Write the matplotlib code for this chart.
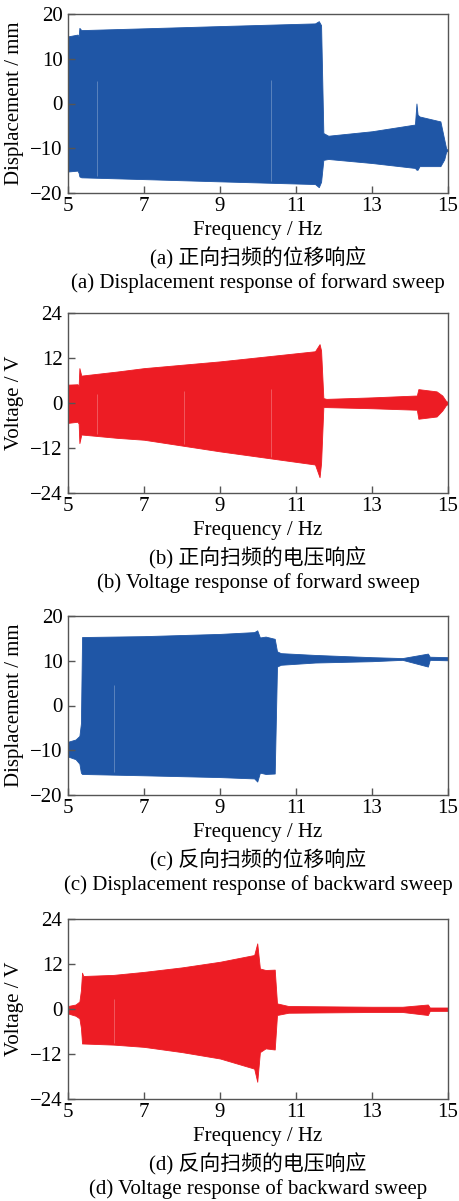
#!/usr/bin/env python3
"""
Frequency-sweep responses (forward / backward): displacement and voltage envelopes.
"""

import numpy as np
import matplotlib.pyplot as plt

# ---- envelope data (freq in Hz, upper / lower bound) ----
# (a) forward sweep, displacement / mm
freq_a = [5.00, 5.25, 5.28, 5.30, 5.35, 7.00, 9.00, 11.50, 11.60, 11.66, 11.72,
          11.85, 13.00, 14.13, 14.17, 14.20, 14.25, 14.80, 14.90, 14.95, 15.00]
upper_a = [15.0, 15.4, 15.0, 16.9, 16.4, 16.8, 17.3, 17.9, 18.4, 17.5, -6.6,
           -7.2, -6.2, -4.7, 0.0, -2.5, -2.9, -4.0, -8.0, -10.0, -10.5]
lower_a = [-15.2, -15.0, -15.5, -16.3, -16.5, -16.9, -17.4, -18.0, -18.7, -17.5, -12.6,
           -12.4, -13.3, -14.4, -14.8, -14.8, -14.0, -14.0, -12.5, -10.8, -10.5]
gaps_a = [5.76, 10.35]

# (b) forward sweep, voltage / V
freq_b = [5.00, 5.25, 5.28, 5.30, 5.35, 6.30, 7.00, 9.00, 11.50, 11.62, 11.66, 11.72,
          11.80, 13.00, 14.18, 14.22, 14.70, 14.85, 14.95, 15.00]
upper_b = [4.9, 5.0, 4.5, 9.3, 7.3, 8.4, 9.3, 11.1, 13.8, 15.7, 14.0, 1.3,
           1.1, 1.5, 2.0, 3.7, 3.1, 2.0, 0.5, 0.3]
lower_b = [-5.3, -5.0, -5.5, -10.7, -8.4, -9.3, -9.8, -12.9, -16.4, -19.8, -16.0, -1.1,
           -1.1, -1.4, -1.8, -4.2, -3.6, -2.0, -0.5, -0.3]
gaps_b = [5.75, 8.05, 10.35]

# (c) backward sweep, displacement / mm
freq_c = [5.00, 5.20, 5.30, 5.34, 5.37, 7.00, 9.00, 9.90, 9.98, 10.05, 10.20, 10.44,
          10.50, 10.60, 11.50, 13.00, 13.80, 14.47, 14.52, 15.00]
upper_c = [-8.1, -7.6, -6.8, -4.0, 15.3, 15.5, 16.0, 16.4, 16.8, 15.2, 15.4, 14.9,
           12.1, 11.7, 11.3, 10.8, 10.6, 11.6, 10.9, 10.8]
lower_c = [-11.4, -12.0, -13.0, -15.0, -15.3, -15.6, -16.0, -16.3, -17.0, -15.0, -15.3, -15.2,
           8.7, 9.1, 9.6, 9.9, 10.2, 8.7, 10.2, 10.1]
gaps_c = [6.20]

# (d) backward sweep, voltage / V
freq_d = [5.00, 5.20, 5.30, 5.34, 5.37, 5.40, 6.20, 7.00, 8.00, 9.00, 9.90, 9.98, 10.05,
          10.20, 10.44, 10.50, 10.80, 13.00, 13.80, 14.47, 14.52, 15.00]
upper_d = [0.8, 1.2, 2.0, 5.0, 9.7, 8.8, 9.1, 9.9, 11.1, 12.6, 14.4, 17.5, 10.8,
           10.4, 10.5, 1.5, 0.8, 0.6, 0.6, 1.2, 0.4, 0.4]
lower_d = [-1.2, -1.8, -2.5, -5.0, -9.2, -9.2, -9.5, -10.1, -11.5, -13.2, -15.9, -19.4, -11.5,
           -10.5, -10.8, -1.6, -1.0, -0.8, -0.8, -1.6, -0.5, -0.5]
gaps_d = [6.20]

BLUE = "#1f56a6"
RED = "#ed1c24"
SPINE = "#555555"

panels = [
    # data, color, ylim, yticks, ylabel, zh caption, en caption, axes top/bottom px
    (freq_a, upper_a, lower_a, gaps_a, BLUE, (-20, 20), [-20, -10, 0, 10, 20],
     "Displacement / mm", "(a) 正向扫频的位移响应",
     "(a) Displacement response of forward sweep", 14, 193),
    (freq_b, upper_b, lower_b, gaps_b, RED, (-24, 24), [-24, -12, 0, 12, 24],
     "Voltage / V", "(b) 正向扫频的电压响应",
     "(b) Voltage response of forward sweep", 313, 493),
    (freq_c, upper_c, lower_c, gaps_c, BLUE, (-20, 20), [-20, -10, 0, 10, 20],
     "Displacement / mm", "(c) 反向扫频的位移响应",
     "(c) Displacement response of backward sweep", 616, 795),
    (freq_d, upper_d, lower_d, gaps_d, RED, (-24, 24), [-24, -12, 0, 12, 24],
     "Voltage / V", "(d) 反向扫频的电压响应",
     "(d) Voltage response of backward sweep", 919, 1099),
]

W, H = 460, 1201
plt.rcParams["font.family"] = ["Liberation Serif", "Noto Sans CJK SC"]
plt.rcParams["axes.unicode_minus"] = True

fig = plt.figure(figsize=(W / 100, H / 100), dpi=100)

left_px, right_px = 68, 448
fs_tick = 15
fs_label = 15
fs_cap = 15

for (f, up, lo, gaps, color, ylim, yticks, ylabel, cap_zh, cap_en,
     top_px, bot_px) in panels:
    ax = fig.add_axes([left_px / W, 1 - bot_px / H,
                       (right_px - left_px) / W, (bot_px - top_px) / H])
    ax.fill_between(f, lo, up, color=color, linewidth=0.6, edgecolor=color)
    for g in gaps:
        ax.vlines(g, np.interp(g, f, lo) + 0.5, np.interp(g, f, up) * 0.3,
                  color="white", lw=0.6, alpha=0.3)

    ax.set_xlim(5, 15)
    ax.set_ylim(*ylim)
    ax.set_xticks([5, 7, 9, 11, 13, 15])
    ax.set_yticks(yticks)
    ax.tick_params(direction="in", length=5, width=1, color=SPINE,
                   labelsize=fs_tick, top=False, right=False)
    ax.tick_params(axis="x", pad=3)
    ax.tick_params(axis="y", pad=4)
    for s in ax.spines.values():
        s.set_color(SPINE)
        s.set_linewidth(1.0)

    ax.set_ylabel(ylabel, fontsize=fs_label)
    ax.yaxis.set_label_coords(-0.115, 0.5)

    cx = (left_px + right_px) / 2 / W
    fig.text(cx, 1 - (bot_px + 37) / H, "Frequency / Hz", fontsize=fs_label,
             ha="center", va="center")
    fig.text(cx, 1 - (bot_px + 65) / H, cap_zh, fontsize=fs_cap,
             ha="center", va="center")
    fig.text(cx, 1 - (bot_px + 90) / H, cap_en, fontsize=fs_label,
             ha="center", va="center")

fig.savefig("out.png", dpi=100)
